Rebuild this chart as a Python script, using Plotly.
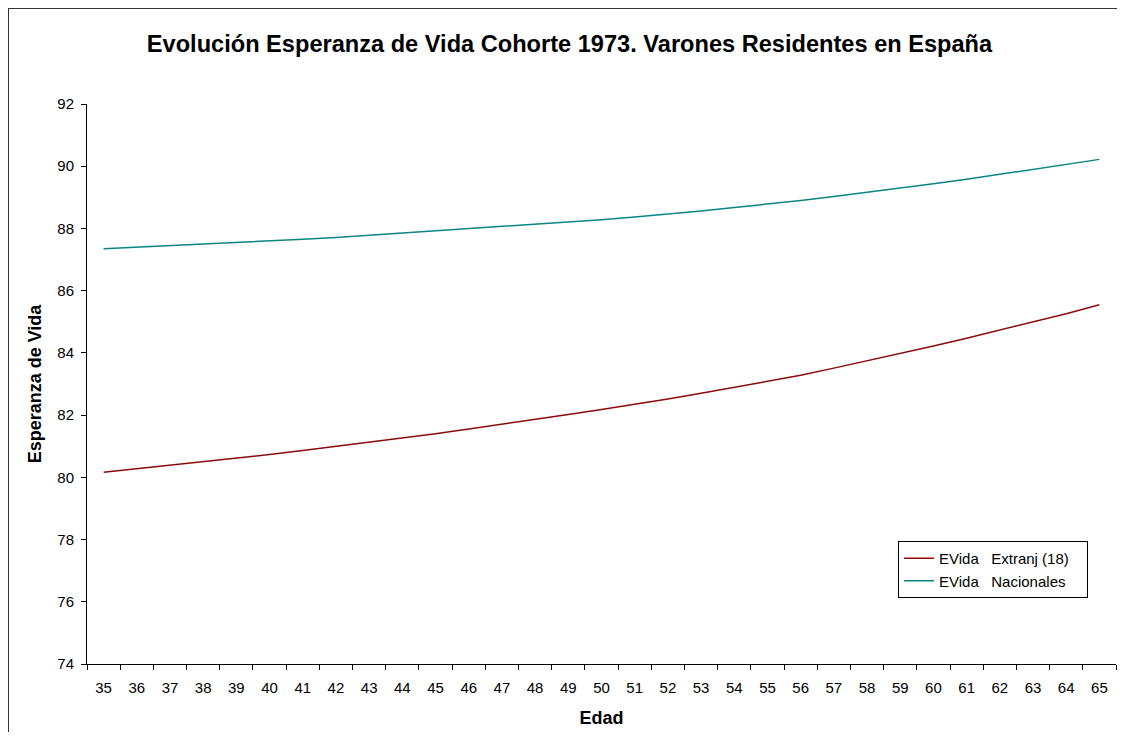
import plotly.graph_objects as go

# edad (eje x) y esperanza de vida por grupo
edades = [str(e) for e in range(35, 66)]

extranj = [80.16, 80.27, 80.39, 80.50, 80.61, 80.73, 80.86, 80.99, 81.12, 81.26,
           81.40, 81.55, 81.70, 81.86, 82.02, 82.18, 82.34, 82.52, 82.70, 82.89,
           83.08, 83.28, 83.51, 83.74, 83.98, 84.22, 84.47, 84.73, 84.99, 85.26,
           85.55]

nacionales = [87.35, 87.40, 87.44, 87.48, 87.53, 87.59, 87.65, 87.71, 87.78, 87.85,
              87.92, 87.99, 88.06, 88.13, 88.20, 88.28, 88.37, 88.46, 88.56, 88.67,
              88.78, 88.90, 89.03, 89.16, 89.30, 89.44, 89.58, 89.74, 89.90, 90.06,
              90.22]

y_ticks = [74, 76, 78, 80, 82, 84, 86, 88, 90, 92]

font = "Liberation Sans, Arial, sans-serif"
nb = "\u00a0"

fig = go.Figure()
fig.add_trace(go.Scatter(x=edades, y=extranj, mode="lines", legendgroup="a",
                         name="EVida" + nb * 3 + "Extranj (18)" + nb * 3,
                         line=dict(color="#8b0a0a", width=1.5)))
fig.add_trace(go.Scatter(x=edades, y=nacionales, mode="lines", legendgroup="b",
                         name="EVida" + nb * 3 + "Nacionales",
                         line=dict(color="#0a8585", width=1.5)))

# la página tiene 8px de margen: la figura empieza en (8, 8)
fig.update_layout(
    width=1109, height=724,
    margin=dict(l=79, r=1, t=96, b=68, autoexpand=False),
    paper_bgcolor="white", plot_bgcolor="white",
    font=dict(family=font, size=15, color="black"),
    title=dict(text="<b>Evolución Esperanza de Vida Cohorte 1973. Varones Residentes en España</b>",
               x=(569.5 - 8) / 1109, xanchor="center", y=1 - 36 / 724, yanchor="middle",
               font=dict(size=23.6, color="black")),
    showlegend=True,
    legend=dict(x=(898 - 87) / 1029, y=(664 - 541) / 560, xanchor="left", yanchor="top",
                bordercolor="black", borderwidth=1, bgcolor="white",
                font=dict(size=15), tracegroupgap=0, itemwidth=30),
)

fig.update_xaxes(
    type="category", range=[-0.5, len(edades) - 0.5],
    tickson="boundaries", ticks="outside", ticklen=5,
    tickcolor="black", showline=True, linecolor="black", linewidth=1,
    showgrid=False, zeroline=False, tickfont=dict(size=15), automargin=False,
    ticklabelstandoff=10,
    title=dict(text="<b>Edad</b>", font=dict(size=18), standoff=16),
)
fig.update_yaxes(
    range=[74, 92], tickvals=y_ticks, ticks="outside", ticklen=5,
    tickcolor="black", showline=True, linecolor="black", linewidth=1,
    showgrid=False, zeroline=False, tickfont=dict(size=15), automargin=False,
    ticklabelstandoff=4,
    title=dict(text="<b>Esperanza de Vida</b>", font=dict(size=18), standoff=11),
)

# marco exterior del gráfico (izquierda y arriba)
fig.add_shape(type="line", xref="paper", yref="paper",
              x0=-79 / 1029, x1=-79 / 1029, y0=1 + 96 / 560, y1=-0.2,
              line=dict(color="#333333", width=2))
fig.add_shape(type="line", xref="paper", yref="paper",
              x0=-79 / 1029, x1=1.05, y0=1 + 96 / 560, y1=1 + 96 / 560,
              line=dict(color="#333333", width=2))

fig.write_html("out.html")
